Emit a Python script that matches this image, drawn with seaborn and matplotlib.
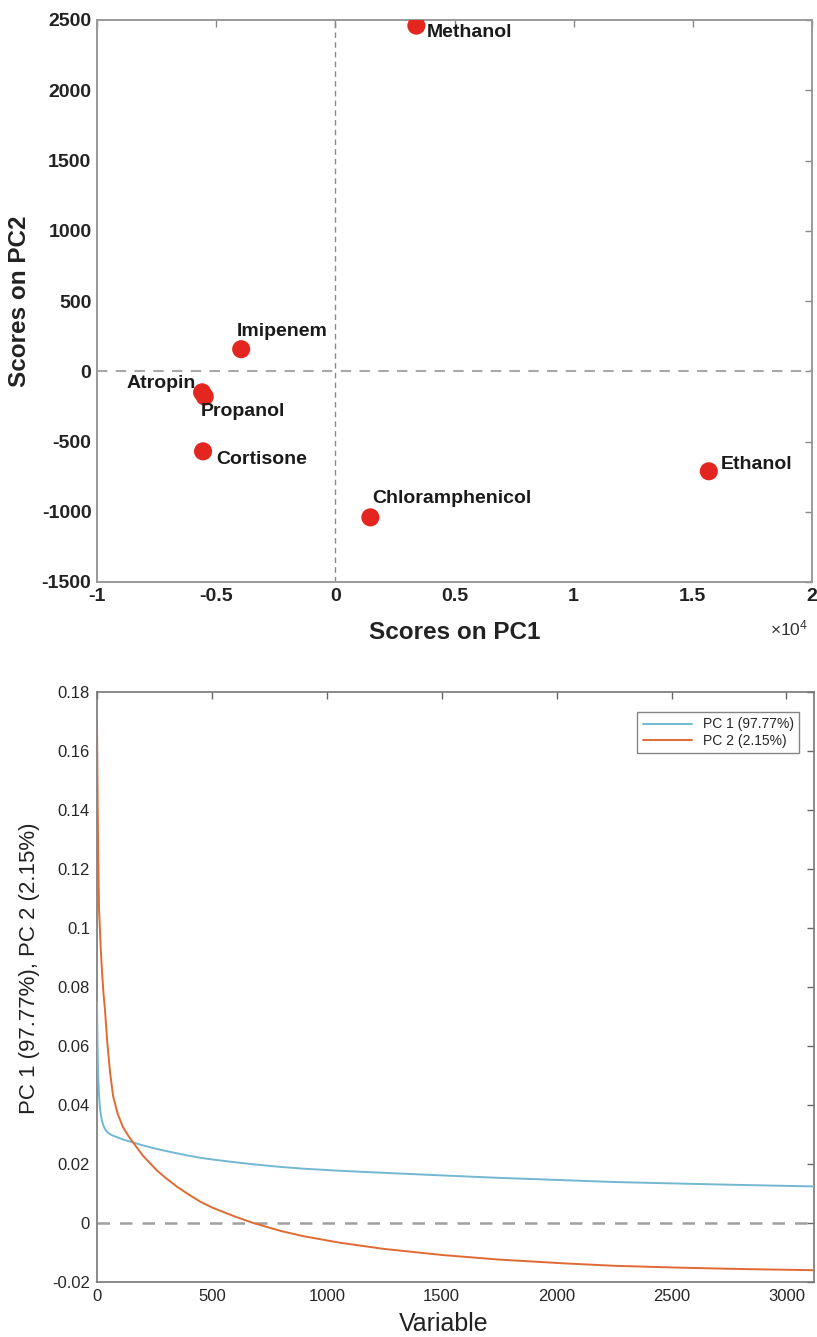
import numpy as np
import pandas as pd
import matplotlib
matplotlib.use("Agg")
import matplotlib.pyplot as plt
import seaborn as sns
from matplotlib.ticker import FuncFormatter, MultipleLocator

# ---------------- data ----------------
compounds = ["Methanol", "Imipenem", "Atropin", "Propanol", "Cortisone", "Chloramphenicol", "Ethanol"]
scores_pc1 = [3400, -3950, -5590, -5480, -5550, 1470, 15670]
scores_pc2 = [2460, 157, -150, -180, -570, -1040, -712]

variable = [0, 2, 5, 9, 13, 17, 22, 28, 35, 45, 57, 70, 90, 113, 135, 157, 200, 261,
            300, 350, 400, 450, 505, 600, 680, 800, 900, 1058, 1250, 1510, 1750, 2037,
            2250, 2516, 2800, 3120]
loading_pc1 = [0.075, 0.062, 0.050, 0.043, 0.039, 0.0365, 0.0345, 0.0330, 0.0318, 0.0308,
               0.0301, 0.0296, 0.0290, 0.0283, 0.0278, 0.0273, 0.0263, 0.0251, 0.0244,
               0.0236, 0.0228, 0.0221, 0.0215, 0.0206, 0.0199, 0.0190, 0.0184, 0.0177,
               0.0170, 0.0161, 0.0153, 0.0145, 0.0139, 0.0134, 0.0129, 0.0124]
loading_pc2 = [0.170, 0.150, 0.125, 0.106, 0.099, 0.092, 0.085, 0.078, 0.072, 0.061,
               0.051, 0.043, 0.037, 0.0325, 0.0297, 0.0273, 0.0228, 0.0178, 0.0152,
               0.0122, 0.0096, 0.0072, 0.0051, 0.0022, 0.0000, -0.0027, -0.0045, -0.0067,
               -0.0088, -0.0109, -0.0124, -0.0137, -0.0145, -0.0151, -0.0156, -0.0160]
series_names = ["PC 1 (97.77%)", "PC 2 (2.15%)"]

# label placement (offset in pixels, horizontal alignment)
label_style = {
    "Methanol": (10, -7, "left"),
    "Imipenem": (-4, 18, "left"),
    "Atropin": (-6, 9, "right"),
    "Propanol": (-4, -15, "left"),
    "Cortisone": (13, -8, "left"),
    "Chloramphenicol": (2, 19, "left"),
    "Ethanol": (12, 7, "left"),
}

# ---------------- style ----------------
sns.set_style("white")
plt.rcParams["font.family"] = ["Liberation Sans", "DejaVu Sans"]
plt.rcParams["axes.unicode_minus"] = False
plt.rcParams["mathtext.fontset"] = "custom"
plt.rcParams["mathtext.rm"] = "Liberation Sans"

fig = plt.figure(figsize=(8.17, 13.37), dpi=100)
ax1 = fig.add_axes([97 / 817, 1 - 582 / 1337, 715 / 817, 562 / 1337])
ax2 = fig.add_axes([97 / 817, 1 - 1282 / 1337, 717 / 817, 590 / 1337])

# ---------------- top: scores ----------------
df_scores = pd.DataFrame({"compound": compounds, "pc1": scores_pc1, "pc2": scores_pc2})
ax1.axhline(0, color="#a8a8a8", ls=(0, (5, 4)), lw=1.5, zorder=1)
ax1.axvline(0, color="#8a8a8a", ls=(0, (4, 3)), lw=1.0, zorder=1)
sns.scatterplot(data=df_scores, x="pc1", y="pc2", color="#e3261f", s=170,
                edgecolor="none", ax=ax1, legend=False, zorder=3)
for _, r in df_scores.iterrows():
    dx, dy, ha = label_style[r["compound"]]
    ax1.annotate(r["compound"], (r["pc1"], r["pc2"]), xytext=(dx, dy),
                 textcoords="offset pixels", ha=ha, va="center",
                 fontsize=14, fontweight="bold", color="#1a1a1a", zorder=4)

ax1.set_xlim(-10000, 20000)
ax1.set_ylim(-1500, 2500)
ax1.xaxis.set_major_locator(MultipleLocator(5000))
ax1.yaxis.set_major_locator(MultipleLocator(500))
ax1.xaxis.set_major_formatter(FuncFormatter(lambda v, p: f"{v / 1e4:g}"))
ax1.yaxis.set_major_formatter(FuncFormatter(lambda v, p: f"{v:g}"))
ax1.tick_params(direction="in", top=True, right=True, length=5, width=1,
                color="#888888", labelsize=14, pad=4)
for lab in ax1.get_xticklabels() + ax1.get_yticklabels():
    lab.set_fontweight("bold")
    lab.set_color("#222222")
for sp in ax1.spines.values():
    sp.set_color("#999999")
    sp.set_linewidth(1.4)
ax1.set_xlabel("Scores on PC1", fontsize=17.5, fontweight="bold", color="#222222", labelpad=12)
ax1.set_ylabel("Scores on PC2", fontsize=17.5, fontweight="bold", color="#222222", labelpad=8)
ax1.text(0.995, -0.082, r"$\times\mathregular{10^{4}}$", transform=ax1.transAxes,
         ha="right", va="center", fontsize=12.5, color="#333333")

# ---------------- bottom: loadings ----------------
df_load = pd.DataFrame({
    "Variable": variable * 2,
    "value": loading_pc1 + loading_pc2,
    "series": [series_names[0]] * len(variable) + [series_names[1]] * len(variable),
})
ax2.axhline(0, color="#a0a0a0", ls=(0, (5, 4)), lw=1.8, zorder=1)
sns.lineplot(data=df_load, x="Variable", y="value", hue="series",
             palette=["#72b8d2", "#e06a33"], lw=1.4, ax=ax2, zorder=3)
ax2.set_xlim(0, 3120)
ax2.set_ylim(-0.02, 0.18)
ax2.xaxis.set_major_locator(MultipleLocator(500))
ax2.yaxis.set_major_locator(MultipleLocator(0.02))
ax2.yaxis.set_major_formatter(FuncFormatter(lambda v, p: f"{round(v, 4):g}"))
ax2.tick_params(direction="in", top=True, right=True, length=5, width=1,
                color="#666666", labelsize=12, pad=5)
for sp in ax2.spines.values():
    sp.set_color("#777777")
    sp.set_linewidth(1.2)
ax2.set_xlabel("Variable", fontsize=18, color="#222222")
ax2.xaxis.set_label_coords(0.483, -0.051)
ax2.set_ylabel("PC 1 (97.77%), PC 2 (2.15%)", fontsize=16, color="#222222")
ax2.yaxis.set_label_coords(-0.08, 0.532)
leg = ax2.legend(loc="upper right", fontsize=10, frameon=True, fancybox=False,
                 handlelength=3.5, borderpad=0.4, labelspacing=0.15,
                 bbox_to_anchor=(0.989, 0.978))
leg.get_frame().set_edgecolor("#666666")
leg.get_frame().set_linewidth(1.0)
leg.set_title(None)

fig.savefig("out.png", dpi=100)
